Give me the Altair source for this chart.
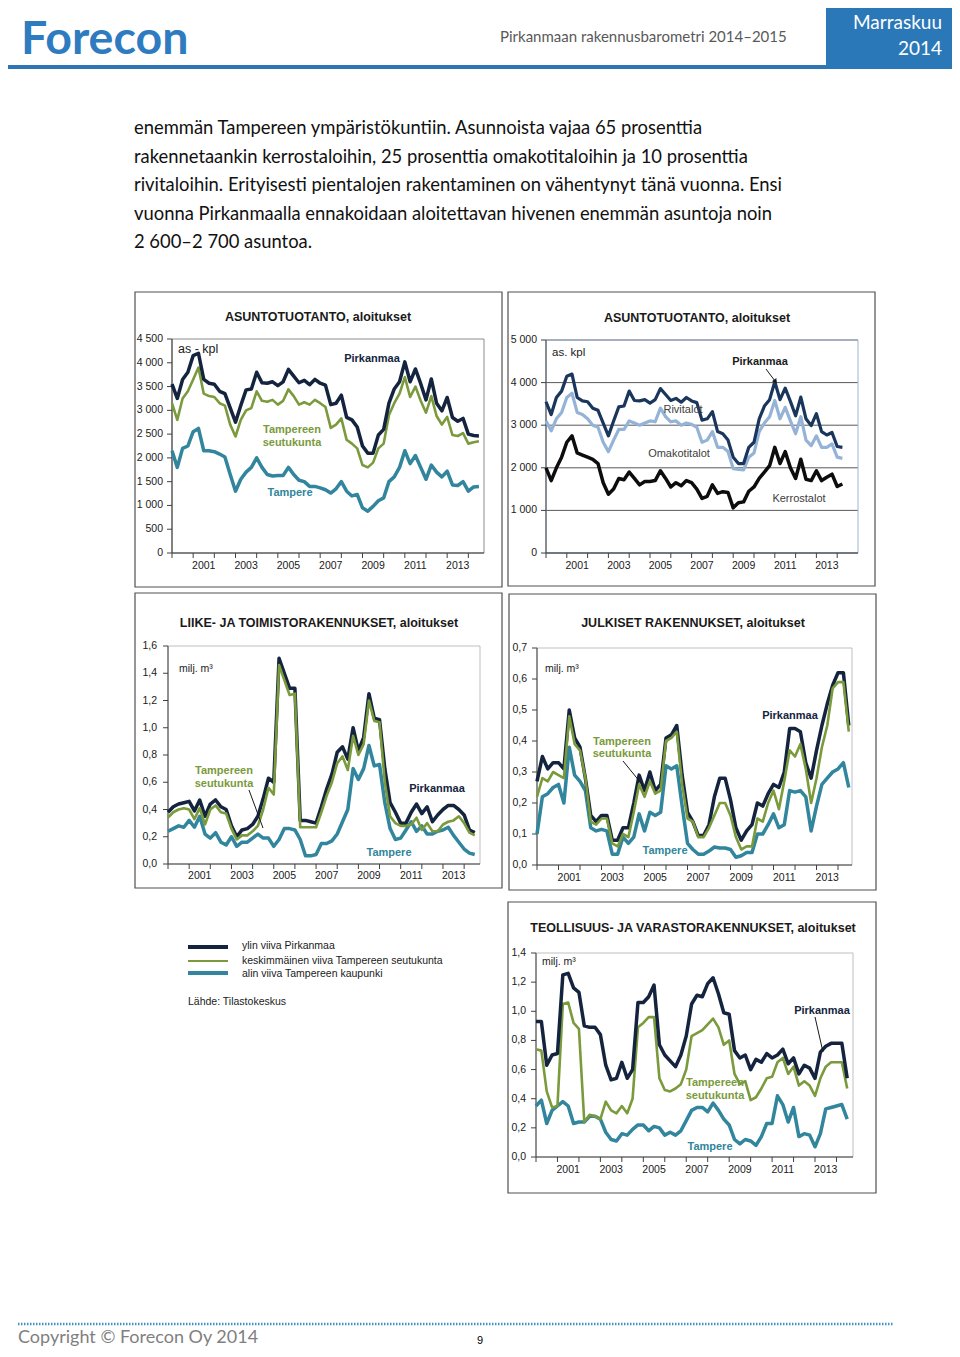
import altair as alt
import pandas as pd

O = 8  # page margin of the html page

# ---------------- colours / fonts ----------------
NAVY = "#14243E"
OLIVE = "#7A9A3C"
TEAL = "#31859C"
NAVY2 = "#1B365D"
LIGHTBLUE = "#95B3D7"
BLACK = "#0D0D0D"
BLUE = "#2E7BBF"
AX = "#404040"
TXT = "#1A1A1A"
FONT = "Liberation Sans"
BODY = "Lato"

# ---------------- data ----------------
YEAR_LABELS = [2001, 2003, 2005, 2007, 2009, 2011, 2013]

# ASUNTOTUOTANTO (chart 1), quarterly 2000Q1..2014Q3
ASU_PIRKANMAA = [3550, 3250, 3650, 3800, 4150, 4200, 3650, 3570, 3550, 3400, 3350, 3050,
                 2750, 3100, 3430, 3450, 3800, 3580, 3570, 3600, 3520, 3600, 3860, 3720,
                 3580, 3630, 3540, 3650, 3570, 3530, 3120, 3150, 3320, 2850, 2800, 2650,
                 2250, 2100, 2100, 2480, 2600, 3150, 3450, 3600, 4020, 3600, 3870, 3560,
                 3220, 3660, 3150, 2990, 3270, 2850, 2770, 2830, 2500, 2470, 2460]
ASU_SEUTU = [3150, 2800, 3250, 3400, 3650, 3900, 3350, 3300, 3280, 3150, 3100, 2700,
             2450, 2800, 3000, 3050, 3400, 3200, 3180, 3220, 3120, 3200, 3440, 3300,
             3120, 3170, 3120, 3220, 3150, 3070, 2630, 2700, 2830, 2380, 2300, 2200,
             1850, 1800, 1900, 2200, 2300, 2900, 3150, 3350, 3700, 3280, 3500, 3200,
             2950, 3300, 2880, 2700, 2860, 2480, 2460, 2520, 2300, 2330, 2350]
ASU_TAMPERE = [2150, 1800, 2200, 2250, 2550, 2620, 2150, 2150, 2130, 2080, 2020, 1650,
               1300, 1550, 1700, 1800, 2000, 1800, 1650, 1620, 1630, 1630, 1800, 1650,
               1530, 1500, 1400, 1400, 1370, 1330, 1260, 1350, 1500, 1300, 1200, 1230,
               950, 880, 980, 1100, 1160, 1500, 1600, 1800, 2150, 1880, 2050, 1800,
               1550, 1850, 1700, 1600, 1720, 1430, 1420, 1500, 1300, 1390, 1400]
ASU_YTICKS = [0, 500, 1000, 1500, 2000, 2500, 3000, 3500, 4000, 4500]
ASU_YLABELS = ["0", "500", "1 000", "1 500", "2 000", "2 500", "3 000", "3 500", "4 000", "4 500"]

# ASUNTOTUOTANTO by building type (chart 2), 2000Q1..2014Q2
TYY_PIRKANMAA = [3550, 3250, 3650, 3800, 4150, 4200, 3650, 3570, 3550, 3400, 3350, 3050,
                 2750, 3100, 3430, 3450, 3800, 3580, 3570, 3600, 3520, 3600, 3860, 3720,
                 3580, 3630, 3540, 3650, 3570, 3530, 3120, 3150, 3320, 2850, 2800, 2650,
                 2250, 2100, 2100, 2480, 2600, 3150, 3450, 3600, 4020, 3600, 3870, 3560,
                 3220, 3660, 3150, 2990, 3270, 2850, 2770, 2830, 2500, 2480]
TYY_KERROS_OMAKOTI = [3100, 2870, 3150, 3300, 3650, 3750, 3300, 3250, 3150, 3000, 2950, 2600,
                      2380, 2650, 2900, 2900, 3100, 3050, 3000, 3050, 3100, 3080, 3400, 3200,
                      3080, 3100, 3000, 3050, 3020, 2950, 2600, 2650, 2850, 2480, 2480, 2380,
                      1980, 1960, 1950, 2250, 2350, 2850, 3050, 3200, 3580, 3150, 3420, 3100,
                      2800, 3200, 2650, 2520, 2750, 2480, 2480, 2560, 2250, 2220]
TYY_KERROS = [2000, 1700, 2000, 2250, 2600, 2750, 2350, 2300, 2250, 2200, 2100, 1650,
              1380, 1500, 1750, 1720, 1900, 1750, 1600, 1680, 1680, 1700, 1930, 1750,
              1550, 1650, 1580, 1700, 1650, 1500, 1280, 1330, 1600, 1400, 1440, 1420,
              1060, 1180, 1200, 1450, 1550, 1750, 1900, 2050, 2480, 2100, 2380, 2000,
              1750, 2200, 1730, 1700, 1930, 1700, 1780, 1850, 1560, 1620]
TYY_YTICKS = [0, 1000, 2000, 3000, 4000, 5000]
TYY_YLABELS = ["0", "1 000", "2 000", "3 000", "4 000", "5 000"]

# LIIKE- JA TOIMISTORAKENNUKSET (chart 3), milj. m3
LII_PIRKANMAA = [0.38, 0.42, 0.44, 0.45, 0.46, 0.39, 0.47, 0.35, 0.44, 0.47, 0.42, 0.40,
                 0.28, 0.20, 0.25, 0.26, 0.29, 0.35, 0.48, 0.63, 0.60, 1.51, 1.40, 1.29,
                 1.29, 0.32, 0.32, 0.31, 0.30, 0.42, 0.55, 0.66, 0.82, 0.86, 0.77, 1.00,
                 0.83, 0.93, 1.25, 1.07, 1.06, 0.70, 0.45, 0.38, 0.30, 0.30, 0.38, 0.44,
                 0.37, 0.42, 0.31, 0.36, 0.40, 0.43, 0.43, 0.40, 0.36, 0.25, 0.23]
LII_SEUTU = [0.34, 0.38, 0.40, 0.41, 0.40, 0.33, 0.41, 0.29, 0.40, 0.43, 0.38, 0.37,
             0.26, 0.18, 0.21, 0.21, 0.24, 0.28, 0.40, 0.56, 0.51, 1.46, 1.35, 1.24,
             1.25, 0.27, 0.27, 0.27, 0.27, 0.38, 0.50, 0.60, 0.74, 0.79, 0.69, 0.94,
             0.80, 0.88, 1.20, 1.05, 1.04, 0.60, 0.35, 0.30, 0.28, 0.28, 0.29, 0.34,
             0.25, 0.30, 0.24, 0.24, 0.29, 0.31, 0.32, 0.35, 0.30, 0.23, 0.21]
LII_TAMPERE = [0.24, 0.26, 0.28, 0.27, 0.32, 0.27, 0.35, 0.22, 0.19, 0.23, 0.16, 0.14,
               0.20, 0.13, 0.16, 0.16, 0.19, 0.22, 0.19, 0.19, 0.13, 0.18, 0.26, 0.26,
               0.25, 0.18, 0.06, 0.06, 0.07, 0.15, 0.15, 0.17, 0.22, 0.31, 0.40, 0.70,
               0.62, 0.70, 0.87, 0.72, 0.73, 0.45, 0.26, 0.18, 0.19, 0.25, 0.31, 0.24,
               0.28, 0.22, 0.22, 0.24, 0.25, 0.27, 0.21, 0.16, 0.11, 0.08, 0.07]
LII_YTICKS = [0.0, 0.2, 0.4, 0.6, 0.8, 1.0, 1.2, 1.4, 1.6]
LII_YLABELS = ["0,0", "0,2", "0,4", "0,6", "0,8", "1,0", "1,2", "1,4", "1,6"]

# JULKISET RAKENNUKSET (chart 4)
JUL_PIRKANMAA = [0.27, 0.35, 0.31, 0.33, 0.33, 0.31, 0.50, 0.41, 0.38, 0.28, 0.16, 0.14,
                 0.16, 0.16, 0.08, 0.08, 0.12, 0.12, 0.20, 0.29, 0.24, 0.30, 0.24, 0.26,
                 0.41, 0.42, 0.45, 0.29, 0.17, 0.14, 0.095, 0.095, 0.13, 0.22, 0.28, 0.28,
                 0.21, 0.12, 0.08, 0.11, 0.13, 0.20, 0.19, 0.23, 0.26, 0.25, 0.30, 0.44,
                 0.44, 0.43, 0.33, 0.28, 0.37, 0.45, 0.52, 0.58, 0.62, 0.62, 0.45]
JUL_SEUTU = [0.22, 0.28, 0.27, 0.30, 0.29, 0.28, 0.48, 0.39, 0.37, 0.28, 0.14, 0.13,
             0.15, 0.15, 0.07, 0.06, 0.10, 0.09, 0.17, 0.26, 0.22, 0.27, 0.23, 0.24,
             0.40, 0.41, 0.43, 0.26, 0.15, 0.14, 0.09, 0.09, 0.12, 0.16, 0.20, 0.20,
             0.16, 0.09, 0.05, 0.06, 0.06, 0.15, 0.14, 0.20, 0.24, 0.18, 0.27, 0.37,
             0.35, 0.39, 0.31, 0.20, 0.28, 0.38, 0.45, 0.57, 0.59, 0.59, 0.43]
JUL_TAMPERE = [0.10, 0.22, 0.23, 0.25, 0.26, 0.20, 0.38, 0.29, 0.27, 0.24, 0.12, 0.11,
               0.115, 0.11, 0.035, 0.035, 0.09, 0.07, 0.09, 0.165, 0.11, 0.17, 0.16, 0.17,
               0.32, 0.31, 0.32, 0.19, 0.07, 0.05, 0.035, 0.035, 0.045, 0.058, 0.055, 0.055,
               0.05, 0.025, 0.03, 0.04, 0.04, 0.10, 0.10, 0.13, 0.165, 0.12, 0.13, 0.24,
               0.235, 0.24, 0.22, 0.11, 0.19, 0.26, 0.28, 0.30, 0.31, 0.33, 0.25]
JUL_YTICKS = [0.0, 0.1, 0.2, 0.3, 0.4, 0.5, 0.6, 0.7]
JUL_YLABELS = ["0,0", "0,1", "0,2", "0,3", "0,4", "0,5", "0,6", "0,7"]

# TEOLLISUUS- JA VARASTORAKENNUKSET (chart 5)
TEO_PIRKANMAA = [0.93, 0.93, 0.63, 0.70, 0.71, 1.25, 1.26, 1.16, 1.13, 0.90, 0.89, 0.89,
                 0.84, 0.63, 0.53, 0.54, 0.65, 0.54, 0.60, 1.06, 1.06, 1.10, 1.18, 0.77,
                 0.70, 0.66, 0.62, 0.70, 0.83, 1.05, 1.11, 1.10, 1.19, 1.23, 1.12, 0.99,
                 0.98, 0.73, 0.68, 0.70, 0.60, 0.67, 0.65, 0.71, 0.68, 0.70, 0.74, 0.64,
                 0.68, 0.57, 0.63, 0.61, 0.54, 0.72, 0.76, 0.78, 0.78, 0.78, 0.54]
TEO_SEUTU = [0.74, 0.73, 0.45, 0.34, 0.35, 1.05, 1.06, 0.92, 0.88, 0.24, 0.29, 0.28,
             0.26, 0.38, 0.32, 0.30, 0.35, 0.30, 0.40, 0.89, 0.92, 0.96, 0.96, 0.54,
             0.46, 0.45, 0.47, 0.50, 0.60, 0.83, 0.85, 0.87, 0.91, 0.95, 0.89, 0.77,
             0.80, 0.57, 0.50, 0.52, 0.39, 0.41, 0.47, 0.54, 0.55, 0.65, 0.68, 0.57,
             0.62, 0.49, 0.52, 0.49, 0.42, 0.54, 0.62, 0.65, 0.65, 0.65, 0.47]
TEO_TAMPERE = [0.35, 0.39, 0.23, 0.32, 0.35, 0.38, 0.35, 0.23, 0.24, 0.24, 0.28, 0.28,
               0.26, 0.17, 0.12, 0.11, 0.16, 0.15, 0.19, 0.22, 0.22, 0.18, 0.21, 0.20,
               0.15, 0.17, 0.15, 0.18, 0.25, 0.32, 0.34, 0.34, 0.31, 0.37, 0.32, 0.26,
               0.22, 0.12, 0.09, 0.12, 0.11, 0.08, 0.14, 0.23, 0.23, 0.42, 0.36, 0.24,
               0.34, 0.14, 0.16, 0.15, 0.07, 0.16, 0.33, 0.34, 0.35, 0.36, 0.26]
TEO_YTICKS = [0.0, 0.2, 0.4, 0.6, 0.8, 1.0, 1.2, 1.4]
TEO_YLABELS = ["0,0", "0,2", "0,4", "0,6", "0,8", "1,0", "1,2", "1,4"]

PARAGRAPH = [
    "enemmän Tampereen ympäristökuntiin. Asunnoista vajaa 65 prosenttia",
    "rakennetaankin kerrostaloihin, 25 prosenttia omakotitaloihin ja 10 prosenttia",
    "rivitaloihin. Erityisesti pientalojen rakentaminen on vähentynyt tänä vuonna. Ensi",
    "vuonna Pirkanmaalla ennakoidaan aloitettavan hivenen enemmän asuntoja noin",
    "2 600–2 700 asuntoa.",
]

# ---------------- helpers ----------------
ONE = pd.DataFrame({"k": [0]})
layers = []


def V(p):
    return p - O


def text(s, x, y, size, color=TXT, weight="normal", align="left", font=FONT, baseline="middle"):
    layers.append(alt.Chart(ONE).mark_text(text=s, align=align, baseline=baseline, fontSize=size,
                                           font=font, color=color, fontWeight=weight)
                  .encode(x=alt.value(V(x)), y=alt.value(V(y))))


def rect(x0, y0, x1, y1, fill=None, stroke=None, sw=1.0):
    kw = {}
    if fill:
        kw["fill"] = fill
    else:
        kw["fill"] = "#ffffff"
        kw["fillOpacity"] = 0
    if stroke:
        kw["stroke"] = stroke
        kw["strokeWidth"] = sw
    layers.append(alt.Chart(ONE).mark_rect(**kw).encode(
        x=alt.value(V(x0)), x2=alt.value(V(x1)), y=alt.value(V(y0)), y2=alt.value(V(y1))))


def seg(x0, y0, x1, y1, color=AX, sw=1.0, dash=None):
    kw = dict(color=color, strokeWidth=sw)
    if dash:
        kw["strokeDash"] = dash
    layers.append(alt.Chart(ONE).mark_rule(**kw).encode(
        x=alt.value(V(x0)), y=alt.value(V(y0)), x2=alt.value(V(x1)), y2=alt.value(V(y1))))


def panel(box, xmax, ymax, yticks, ylabels, ylab_right, xlab_y, series,
          border=None, grid=None, last_tick=2014):
    px0, py0, px1, py1 = box
    xs = alt.Scale(domain=[2000, xmax], range=[V(px0), V(px1)], nice=False, zero=False)
    ys = alt.Scale(domain=[0, ymax], range=[V(py1), V(py0)], nice=False, zero=False)
    ytab = pd.DataFrame({"v": yticks, "lab": ylabels})
    if grid:
        layers.append(alt.Chart(ytab).mark_rule(color=grid, strokeWidth=1).encode(
            y=alt.Y("v:Q", scale=ys, axis=None), x=alt.value(V(px0)), x2=alt.value(V(px1))))
    if border:
        rect(px0, py0, px1, py1, stroke=border, sw=1)
    seg(px0, py0, px0, py1, AX, 1)
    seg(px0, py1, px1, py1, AX, 1)
    layers.append(alt.Chart(ytab).mark_rule(color=AX, strokeWidth=1).encode(
        y=alt.Y("v:Q", scale=ys, axis=None), x=alt.value(V(px0) - 5), x2=alt.value(V(px0))))
    layers.append(alt.Chart(ytab).mark_text(align="right", baseline="middle", font=FONT,
                                            fontSize=10.5, color=TXT).encode(
        y=alt.Y("v:Q", scale=ys, axis=None), x=alt.value(V(ylab_right)), text="lab:N"))
    xt = pd.DataFrame({"t": list(range(2000, last_tick + 1))})
    layers.append(alt.Chart(xt).mark_rule(color=AX, strokeWidth=1).encode(
        x=alt.X("t:Q", scale=xs, axis=None), y=alt.value(V(py1)), y2=alt.value(V(py1) + 5)))
    xl = pd.DataFrame({"p": [y + 0.5 for y in YEAR_LABELS], "lab": [str(y) for y in YEAR_LABELS]})
    layers.append(alt.Chart(xl).mark_text(align="center", baseline="middle", font=FONT,
                                          fontSize=10.5, color=TXT).encode(
        x=alt.X("p:Q", scale=xs, axis=None), y=alt.value(V(xlab_y)), text="lab:N"))
    for vals, color, sw in series:
        df = pd.DataFrame({"yr": [2000 + i / 4 for i in range(len(vals))], "v": vals})
        layers.append(alt.Chart(df).mark_line(color=color, strokeWidth=sw, strokeJoin="round").encode(
            x=alt.X("yr:Q", scale=xs, axis=None), y=alt.Y("v:Q", scale=ys, axis=None)))


# ---------------- header ----------------
text("Forecon", 21, 54, 46.5, color=BLUE, weight="bold", font=BODY, baseline="alphabetic")
text("Pirkanmaan rakennusbarometri 2014–2015", 500, 42, 15, color="#595959", font=BODY,
     baseline="alphabetic")
seg(8, 67, 826, 67, color="#2E75B6", sw=4)
rect(826, 8, 952, 69, fill="#2B78B8")
text("Marraskuu", 942, 29, 19, color="white", font=BODY, align="right", baseline="alphabetic")
text("2014", 942, 55, 19, color="white", font=BODY, align="right", baseline="alphabetic")

# ---------------- paragraph ----------------
for i, line in enumerate(PARAGRAPH):
    text(line, 134, 134 + i * 28.6, 18.4, color="#111111", font=BODY, baseline="alphabetic")

# ---------------- frames ----------------
FR = "#505050"
rect(135, 292, 502, 587, stroke=FR, sw=1.2)
rect(508, 292, 875, 586, stroke=FR, sw=1.2)
rect(135, 593, 502, 888, stroke=FR, sw=1.2)
rect(509, 594, 876, 890, stroke=FR, sw=1.2)
rect(508, 902, 876, 1193, stroke=FR, sw=1.2)

# ---------------- chart 1 ----------------
text("ASUNTOTUOTANTO, aloitukset", 318, 317, 12.5, weight="bold", align="center")
panel((172, 339, 484, 553), 2014.74, 4500, ASU_YTICKS, ASU_YLABELS, 163, 566,
      [(ASU_SEUTU, OLIVE, 2.6), (ASU_TAMPERE, TEAL, 3.5), (ASU_PIRKANMAA, NAVY, 3.5)],
      border="#8C8C8C")
text("as - kpl", 178, 349, 12.5)
text("Pirkanmaa", 372, 359, 11, color=NAVY, weight="bold", align="center")
text("Tampereen", 292, 430, 11, color=OLIVE, weight="bold", align="center")
text("seutukunta", 292, 443, 11, color=OLIVE, weight="bold", align="center")
text("Tampere", 290, 493, 11, color=TEAL, weight="bold", align="center")

# ---------------- chart 2 ----------------
text("ASUNTOTUOTANTO, aloitukset", 697, 318, 12.5, weight="bold", align="center")
panel((546, 340, 858, 553), 2015, 5000, TYY_YTICKS, TYY_YLABELS, 537, 566,
      [(TYY_KERROS, BLACK, 3.5), (TYY_KERROS_OMAKOTI, LIGHTBLUE, 3.2), (TYY_PIRKANMAA, NAVY2, 3.2)],
      border="#9DB5CF", grid="#595959")
text("as. kpl", 552, 353, 11.5)
text("Pirkanmaa", 760, 362, 11, color=TXT, weight="bold", align="center")
seg(766, 369, 775, 381, color=TXT, sw=1)
layers.append(alt.Chart(ONE).mark_point(shape="triangle-down", filled=True, size=28, angle=325,
                                        color=TXT, opacity=1).encode(
    x=alt.value(V(775.5)), y=alt.value(V(381.5))))
text("Rivitalot", 683, 410, 11, color="#404040", align="center")
text("Omakotitalot", 679, 454, 11, color="#404040", align="center")
text("Kerrostalot", 799, 499, 11, color="#404040", align="center")

# ---------------- chart 3 ----------------
text("LIIKE- JA TOIMISTORAKENNUKSET, aloitukset", 319, 623, 12.5, weight="bold", align="center")
panel((168, 646, 480, 864), 2014.75, 1.6, LII_YTICKS, LII_YLABELS, 157, 876,
      [(LII_TAMPERE, TEAL, 3.5), (LII_PIRKANMAA, NAVY, 3.5), (LII_SEUTU, OLIVE, 2.6)],
      border="#BFBFBF")
text("milj. m³", 179, 669, 10.5)
text("Tampereen", 224, 771, 11, color=OLIVE, weight="bold", align="center")
text("seutukunta", 224, 784, 11, color=OLIVE, weight="bold", align="center")
seg(249, 790, 263, 828, color=TXT, sw=1)
text("Pirkanmaa", 437, 789, 11, color=NAVY, weight="bold", align="center")
text("Tampere", 389, 853, 11, color=TEAL, weight="bold", align="center")

# ---------------- chart 4 ----------------
text("JULKISET RAKENNUKSET, aloitukset", 693, 623, 12.5, weight="bold", align="center")
panel((537, 648, 852, 865), 2014.65, 0.7, JUL_YTICKS, JUL_YLABELS, 527, 878,
      [(JUL_TAMPERE, TEAL, 3.5), (JUL_PIRKANMAA, NAVY, 3.5), (JUL_SEUTU, OLIVE, 2.6)],
      border="#BFBFBF")
text("milj. m³", 545, 669, 10.5)
text("Pirkanmaa", 790, 716, 11, color=NAVY, weight="bold", align="center")
text("Tampereen", 622, 742, 11, color=OLIVE, weight="bold", align="center")
text("seutukunta", 622, 754, 11, color=OLIVE, weight="bold", align="center")
seg(623, 761, 645, 788, color=TXT, sw=1)
text("Tampere", 665, 851, 11, color=TEAL, weight="bold", align="center")

# ---------------- legend ----------------
seg(188, 947, 228, 947, color=NAVY, sw=4)
seg(188, 961, 228, 961, color=OLIVE, sw=2)
seg(188, 973, 228, 973, color=TEAL, sw=4)
text("ylin viiva Pirkanmaa", 242, 946, 10.5)
text("keskimmäinen viiva Tampereen seutukunta", 242, 961, 10.5)
text("alin viiva Tampereen kaupunki", 242, 974, 10.5)
text("Lähde: Tilastokeskus", 188, 1002, 10.5)

# ---------------- chart 5 ----------------
text("TEOLLISUUS- JA VARASTORAKENNUKSET, aloitukset", 693, 928, 12.5, weight="bold", align="center")
panel((536, 953, 853, 1157), 2014.77, 1.4, TEO_YTICKS, TEO_YLABELS, 526, 1170,
      [(TEO_TAMPERE, TEAL, 3.5), (TEO_SEUTU, OLIVE, 2.6), (TEO_PIRKANMAA, NAVY, 3.5)],
      border="#BFBFBF")
text("milj. m³", 542, 962, 10.5)
text("Pirkanmaa", 822, 1011, 11, color=NAVY, weight="bold", align="center")
seg(815, 1017, 823, 1052, color=TXT, sw=1)
text("Tampereen", 715, 1083, 11, color=OLIVE, weight="bold", align="center")
text("seutukunta", 715, 1096, 11, color=OLIVE, weight="bold", align="center")
text("Tampere", 710, 1147, 11, color=TEAL, weight="bold", align="center")

# ---------------- footer ----------------
seg(18, 1324, 893, 1324, color="#3F93C2", sw=2.5, dash=[1.5, 1.5])
text("Copyright © Forecon Oy 2014", 18, 1343, 18, color="#7F7F7F", font=BODY, baseline="alphabetic")
text("9", 480, 1344, 11, color="#000000", font=FONT, align="center", baseline="alphabetic")

chart = alt.layer(*layers).resolve_scale(x="independent", y="independent").properties(
    width=944, height=1341, padding=0, background="white",
    autosize=alt.AutoSizeParams(type="none"),
).configure_view(stroke=None)

chart.save("out.html", embed_options={"renderer": "svg", "actions": False})
